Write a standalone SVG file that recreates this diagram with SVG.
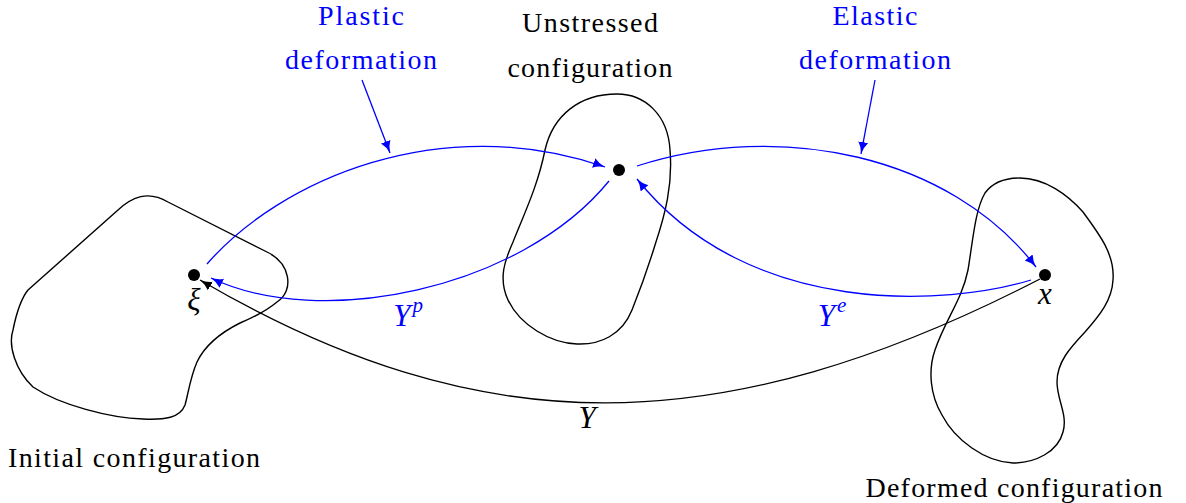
<svg xmlns="http://www.w3.org/2000/svg" width="1186" height="503" viewBox="0 0 1186 503">
<style>
.blob{fill:none;stroke:#000;stroke-width:1.4}
.b{fill:none;stroke:#0000ff;stroke-width:1.3}
.k{fill:none;stroke:#000;stroke-width:1.3}
.t{font-family:"Liberation Serif","Times New Roman",serif;font-size:28px;fill:#000;text-anchor:middle}
.tb{fill:#0000ff}
.m{font-family:"Liberation Serif","Times New Roman",serif;font-style:italic;font-size:31px;text-anchor:middle}
</style>
<defs>
<marker id="ab" markerUnits="userSpaceOnUse" markerWidth="14" markerHeight="11" refX="12" refY="5" orient="auto"><path d="M0,0 Q5,3.8 12,5 Q5,6.2 0,10 Z" fill="#0000ff"/></marker>
<marker id="ak" markerUnits="userSpaceOnUse" markerWidth="14" markerHeight="11" refX="12" refY="5" orient="auto"><path d="M0,0 Q5,3.8 12,5 Q5,6.2 0,10 Z" fill="#000"/></marker>
</defs>
<g id="initial">
<path class="blob" d="M28,290 L118,210 C132,197 148,190 168,202 L267,252 C290,263 295,290 277,302 C265,312 252,318 240,323 C220,333 205,345 197,362 C190,378 188,395 185,405 C180,418 165,420 143,419 C110,418 60,405 33,387 C15,370 8,345 13,330 C16,315 20,300 28,290 Z"/>
<circle cx="194" cy="275" r="6"/>
<text class="m" x="194" y="310" font-size="35">ξ</text>
<text class="t" x="134" y="467" textLength="252" lengthAdjust="spacing">Initial configuration</text>
</g>
<g id="unstressed">
<path class="blob" d="M617,94 C645,94 668,115 670,150 C673,185 665,215 655,245 C648,268 640,290 632,310 C622,335 600,345 577,344 C550,343 520,325 508,300 C498,278 505,260 513,242 C525,212 538,185 545,150 C553,115 580,94 617,94 Z"/>
<circle cx="619" cy="170" r="6"/>
<text class="t" x="590" y="32" textLength="136" lengthAdjust="spacing">Unstressed</text>
<text class="t" x="590" y="77" textLength="165" lengthAdjust="spacing">configuration</text>
</g>
<g id="deformed">
<path class="blob" d="M1020,178 C1045,178 1068,195 1083,212 C1100,235 1115,255 1113,280 C1112,300 1100,315 1085,332 C1070,348 1057,362 1057,382 C1057,400 1068,415 1063,432 C1058,452 1035,463 1013,463 C985,462 955,440 942,415 C930,395 928,370 935,350 C945,320 962,300 968,270 C973,240 975,210 985,193 C993,182 1005,178 1020,178 Z"/>
<circle cx="1045" cy="275" r="6"/>
<text class="m" x="1045" y="304">x</text>
<text class="t" x="1014" y="497" textLength="297" lengthAdjust="spacing">Deformed configuration</text>
</g>
<g id="plastic-label">
<text class="t tb" x="361" y="25" textLength="86" lengthAdjust="spacing">Plastic</text>
<text class="t tb" x="361" y="69" textLength="152" lengthAdjust="spacing">deformation</text>
</g>
<g id="elastic-label">
<text class="t tb" x="875" y="25" textLength="85" lengthAdjust="spacing">Elastic</text>
<text class="t tb" x="875" y="69" textLength="152" lengthAdjust="spacing">deformation</text>
</g>
<g id="connectors">
<path class="b" d="M207,264 C280,180 440,110 605,167" marker-end="url(#ab)"/>
<path class="b" d="M637,166 C780,120 950,155 1036,267" marker-end="url(#ab)"/>
<path class="b" d="M609,181 C520,290 320,330 211,278" marker-end="url(#ab)"/>
<path class="b" d="M1031,280 C950,305 750,320 637,179" marker-end="url(#ab)"/>
<path class="k" d="M1040,279 C720,444 480,444 200,280" marker-end="url(#ak)"/>
<path class="b" d="M362,80 L390,153" marker-end="url(#ab)"/>
<path class="b" d="M875,80 L861,154" marker-end="url(#ab)"/>
</g>
<g id="labels">
<text class="m tb" x="408" y="326">Y<tspan font-size="21" dx="2" dy="-14">p</tspan></text>
<text class="m tb" x="832" y="326">Y<tspan font-size="21" dx="2" dy="-14">e</tspan></text>
<text class="m" x="587" y="428">Y</text>
</g>
</svg>
